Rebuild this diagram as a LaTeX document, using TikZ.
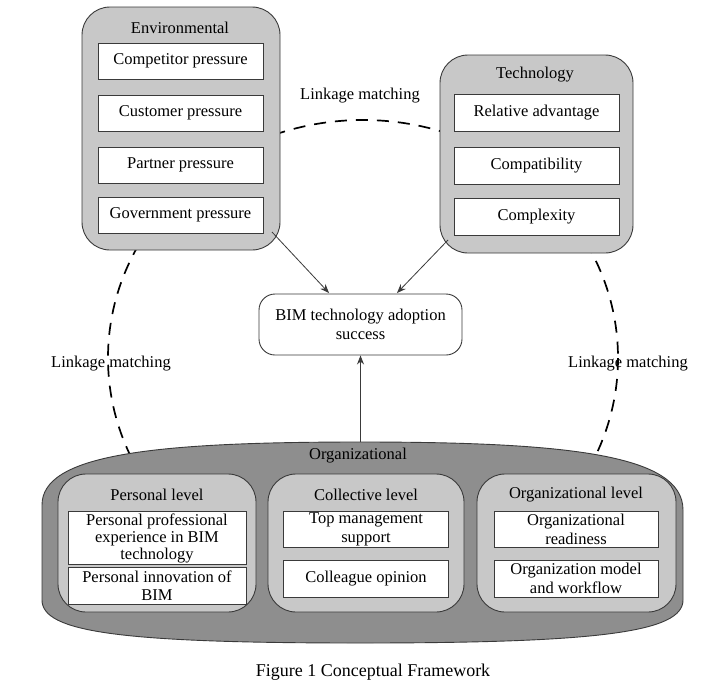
\documentclass[tikz,border=0pt]{standalone}
\usepackage{fontspec}
\setmainfont{Liberation Serif}
\usetikzlibrary{arrows.meta}
\definecolor{lightg}{HTML}{C8C8C8}
\definecolor{darkg}{HTML}{8E8E8E}
\definecolor{edge}{HTML}{3A3A3A}
\begin{document}
\begin{tikzpicture}[x=1pt,y=-1pt,
  font=\fontsize{16.5}{19}\selectfont,
  grp/.style={draw=edge, fill=lightg, line width=0.9pt, rounded corners=28pt},
  item/.style={draw=edge, fill=white, line width=0.9pt, align=center, inner sep=1pt},
  title/.style={inner sep=0pt, anchor=center},
  link/.style={draw=black, line width=1.7pt, dash pattern=on 12pt off 9pt},
  arr/.style={draw=edge, line width=0.8pt, -{Stealth[length=9pt,width=7pt]}},
  lbl/.style={inner sep=0pt}
]
\useasboundingbox (0,0) rectangle (706,691);
\fill[white] (0,0) rectangle (706,691);

% dashed linkage ellipse (behind everything)
\draw[link] (363,358) ellipse [x radius=255, y radius=238];

% Environmental group
\node[grp, minimum width=198pt, minimum height=243pt] (env) at (181,128.5) {};
\node[title] (envt) at (180,28) {Environmental};
\node[item, minimum width=165pt, minimum height=36pt] (e1) at (180.5,61) {Competitor pressure};
\node[item, minimum width=165pt, minimum height=36pt] (e2) at (180.5,113) {Customer pressure};
\node[item, minimum width=165pt, minimum height=36pt] (e3) at (180.5,165) {Partner pressure};
\node[item, minimum width=165pt, minimum height=36pt] (e4) at (180.5,215) {Government pressure};

% Technology group
\node[grp, minimum width=193pt, minimum height=198pt] (tech) at (536.5,154) {};
\node[title] (techt) at (535,75) {Technology};
\node[item, minimum width=165pt, minimum height=37pt] (t1) at (536.5,113) {Relative advantage};
\node[item, minimum width=165pt, minimum height=37pt] (t2) at (536.5,166) {Compatibility};
\node[item, minimum width=165pt, minimum height=37pt] (t3) at (536.5,217) {Complexity};

% BIM success
\node[draw=edge, fill=white, line width=0.9pt, rounded corners=16pt, align=center,
      minimum width=203pt, minimum height=61pt] (bim) at (360.5,324.5)
      {BIM technology adoption\\success};

% Organizational outer shape
\path[draw=edge, fill=darkg, line width=0.9pt]
  (42,560) -- (42,505) .. controls (42,455) and (150,442) .. (360,442)
  .. controls (570,442) and (683,455) .. (683,510) -- (683,600)
  .. controls (683,632) and (600,643) .. (360,643)
  .. controls (120,643) and (42,632) .. (42,600) -- cycle;
\coordinate (orgtop) at (360.5,442);
\node[title] (orgt) at (358,456) {Organizational};

% level groups
\node[grp, minimum width=198pt, minimum height=138pt] (pl) at (157,543) {};
\node[grp, minimum width=196pt, minimum height=138pt] (cl) at (366,543) {};
\node[grp, minimum width=199pt, minimum height=138pt] (ol) at (576.5,543) {};
\node[title] (plt) at (157,495) {Personal level};
\node[title] (clt) at (366,495) {Collective level};
\node[title] (olt) at (576,495) {Organizational level};

\node[item, minimum width=178pt, minimum height=53pt, font=\fontsize{16.5}{17}\selectfont] (p1) at (157,538)
  {Personal professional\\experience in BIM\\technology};
\node[item, minimum width=178pt, minimum height=37pt, font=\fontsize{16.5}{18}\selectfont] (p2) at (157,586)
  {Personal innovation of\\BIM};
\node[item, minimum width=165pt, minimum height=36pt] (c1) at (366,529) {Top management\\support};
\node[item, minimum width=165pt, minimum height=37pt] (c2) at (366,578.5) {Colleague opinion};
\node[item, minimum width=164pt, minimum height=36pt] (o1) at (576,529) {Organizational\\readiness};
\node[item, minimum width=164pt, minimum height=37pt] (o2) at (576,578.5) {Organization model\\and workflow};

% connectors
\coordinate (envout) at (272,232);
\coordinate (techout) at (448,240);
\coordinate (bimL) at (329,293);
\coordinate (bimR) at (397,293);
\draw[arr] (envout) -- (bimL);
\draw[arr] (techout) -- (bimR);
\draw[arr] (orgtop) -- (bim.south);

% labels
\node[lbl] (lk1) at (360,96) {Linkage matching};
\node[lbl] (lk2) at (111,364) {Linkage matching};
\node[lbl] (lk3) at (628,364) {Linkage matching};

% caption
\node[lbl, font=\fontsize{18}{20}\selectfont] (cap) at (373,672) {Figure 1 Conceptual Framework};
\end{tikzpicture}
\end{document}
